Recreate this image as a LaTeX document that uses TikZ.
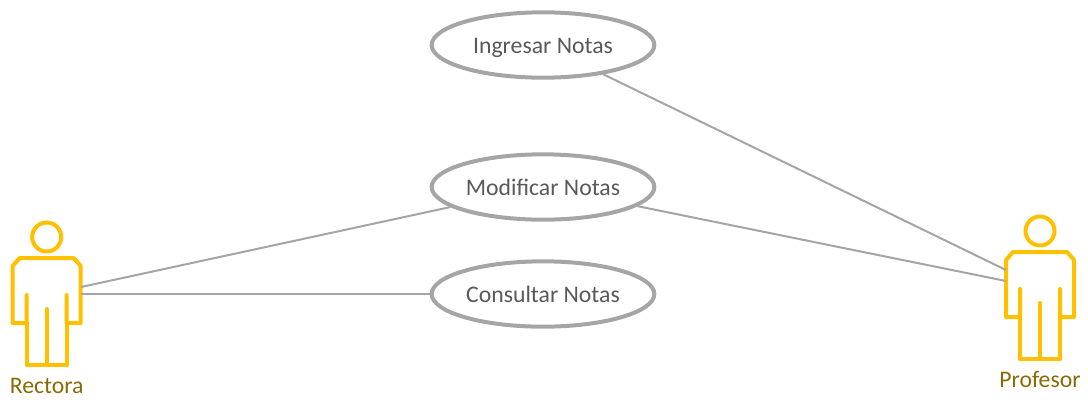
\documentclass[tikz,border=0pt]{standalone}
\usepackage{fontspec}
\setmainfont{Carlito}
\usetikzlibrary{shapes.geometric}
\definecolor{actorc}{HTML}{FFC000}
\definecolor{actortxt}{HTML}{8A6A08}
\definecolor{linec}{HTML}{A5A5A5}
\definecolor{txtc}{HTML}{595959}
\tikzset{
  x=0.75pt,y=-0.75pt,
  usecase/.style={ellipse,draw=linec,line width=3pt,fill=white,minimum width=167pt,minimum height=49pt,inner sep=0pt,text=txtc,text height=12pt,text depth=0pt,font=\fontsize{17.8}{20}\selectfont},
  assoc/.style={draw=linec,line width=1.5pt},
  actorline/.style={draw=actorc,line width=3pt,line join=round,line cap=round},
  actorname/.style={text=actortxt,font=\fontsize{17.8}{20}\selectfont,inner sep=0pt},
  port/.style={inner sep=0pt,minimum size=0pt},
  pics/actor/.style={code={
    \draw[actorline] (0,-50) circle (14.5);
    \draw[actorline] (-20,8) -- (-20,36) -- (-34,36) -- (-34,-21) -- (-27,-29) -- (27,-29) -- (34,-21) -- (34,36) -- (20,36) -- (20,8);
    \draw[actorline] (-20,36) -- (-20,78) -- (20,78) -- (20,36);
    \draw[actorline] (0,22) -- (0,78);
  }}
}
\begin{document}
\begin{tikzpicture}
\useasboundingbox (0,0) rectangle (1088,401);
\pic at (46.7,287) {actor};
\pic at (1040,281) {actor};
\node[port] (rUp) at (81,287) {};
\node[port] (rMid) at (81,294) {};
\node[port] (pUp) at (1006,270) {};
\node[port] (pLow) at (1006,281) {};
\node[usecase] (ing) at (543,45) {Ingresar Notas};
\node[usecase] (mod) at (543,187) {Modificar Notas};
\node[usecase] (con) at (543,294) {Consultar Notas};
\node[actorname] (rect) at (46.7,386) {Rectora};
\node[actorname] (prof) at (1040,379) {Profesor};
\draw[assoc] (rUp) -- (mod);
\draw[assoc] (rMid) -- (con);
\draw[assoc] (pUp) -- (ing);
\draw[assoc] (pLow) -- (mod);
\end{tikzpicture}
\end{document}
